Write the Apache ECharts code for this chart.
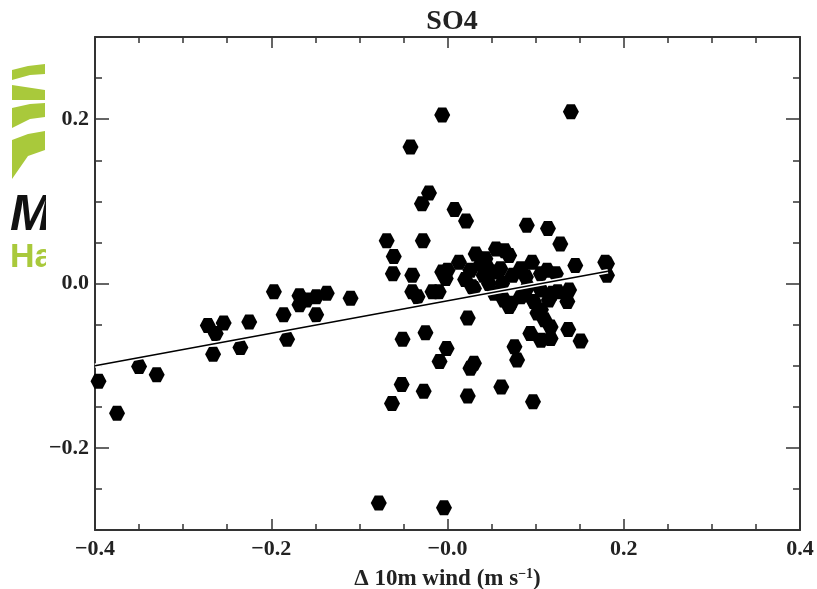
<!DOCTYPE html>
<html>
<head>
<meta charset="utf-8">
<script src="https://cdn.jsdelivr.net/npm/echarts@6/dist/echarts.min.js"></script>
<style>html,body{margin:0;padding:0;background:#fff}#c{width:817px;height:589px}</style>
</head>
<body>
<div id="c"></div>
<script>
const titleText = 'SO4';
const xAxisName = 'Δ 10m wind (m s';
const xTickValues = [-0.4, -0.2, 0.0, 0.2, 0.4];
const yTickValues = [-0.2, 0.0, 0.2];

const windDelta = [
  -0.396,-0.375,-0.350,-0.330,-0.272,-0.254,-0.263,-0.266,-0.225,-0.235,-0.197,-0.186,-0.182,-0.168,-0.168,-0.160,-0.149,-0.149,-0.137,-0.110,
  -0.006,-0.042,-0.021,-0.029,0.008,0.021,-0.069,-0.028,-0.061,-0.062,0.140,0.090,0.114,0.128,
  -0.040,-0.040,-0.034,-0.017,-0.010,-0.006,-0.002,
  0.023,-0.051,-0.025,-0.001,-0.009,0.030,0.026,-0.052,-0.027,-0.063,0.023,0.061,0.097,-0.078,-0.004,
  0.138,0.136,0.070,0.106,0.110,0.117,0.094,0.106,0.117,0.137,0.151,0.076,0.079,0.125,0.102,0.072,
  0.145,0.179,0.181,0.181,
  0.000,0.013,0.032,0.055,0.070,0.045,0.026,0.060,0.083,0.096,0.113,0.123,0.106,0.089,0.074,0.053,0.038,0.030,0.053,0.083,0.106,0.119,0.098,0.043,0.065,0.028,0.085,0.041,0.020,0.062,
  0.064,0.091,0.047,0.115
];
const so4Delta = [
  -0.119,-0.158,-0.101,-0.111,-0.051,-0.048,-0.061,-0.086,-0.047,-0.078,-0.010,-0.038,-0.068,-0.015,-0.026,-0.020,-0.016,-0.038,-0.012,-0.018,
  0.205,0.166,0.110,0.097,0.090,0.076,0.052,0.052,0.033,0.012,0.209,0.071,0.067,0.048,
  0.010,-0.010,-0.016,-0.010,-0.010,0.014,0.006,
  -0.042,-0.068,-0.060,-0.079,-0.095,-0.097,-0.103,-0.123,-0.131,-0.146,-0.137,-0.126,-0.144,-0.267,-0.273,
  -0.008,-0.022,-0.028,-0.032,-0.044,-0.053,-0.061,-0.069,-0.067,-0.056,-0.070,-0.077,-0.093,-0.010,-0.036,-0.024,
  0.022,0.026,0.010,0.024,
  0.016,0.026,0.036,0.042,0.034,0.020,0.016,0.018,0.018,0.026,0.016,0.012,0.012,0.008,0.010,0.014,0.024,-0.006,-0.012,-0.016,-0.008,-0.012,-0.022,0.030,0.040,-0.004,-0.014,0.010,0.005,0.000,
  -0.020,-0.004,0.000,-0.020
];
const fitX = [-0.4, 0.182];
const fitY = [-0.100, 0.015];

const chart = echarts.init(document.getElementById('c'), null, {renderer: 'canvas'});
const serif = '"Liberation Serif", "Times New Roman", serif';
const hex = 'path://M-1,0 L-0.5,-0.866 L0.5,-0.866 L1,0 L0.5,0.866 L-0.5,0.866 Z';
const fmt = v => {
  const a = Math.abs(v) < 1e-9 ? 0 : v;
  return (a < 0 ? '\u2212' : '') + Math.abs(a).toFixed(1);
};
const fmtX = v => (Math.abs(v) < 1e-9 ? '\u22120.0' : fmt(v));

const axisLineStyle = {color: '#333', width: 2};
const tickStyle = {color: '#333', width: 1.5};
const baseX = {
  type: 'value', min: -0.4, max: 0.4, interval: 0.2,
  splitLine: {show: false},
  axisLine: {show: true, onZero: false, lineStyle: axisLineStyle},
  axisTick: {show: true, inside: true, length: 11, lineStyle: tickStyle},
  minorTick: {show: true, splitNumber: 4, length: 6, lineStyle: tickStyle},
  minorSplitLine: {show: false}
};
const minorY = pos => ({
  type: 'value', min: -0.3, max: 0.3, interval: 0.05, position: pos,
  splitLine: {show: false},
  axisLine: {show: true, onZero: false, lineStyle: axisLineStyle},
  axisTick: {show: true, inside: true, length: 7, lineStyle: tickStyle},
  axisLabel: {show: false}
});
const majorY = (pos, labels) => ({
  type: 'value', min: -0.3, max: 0.3, interval: 0.05, position: pos,
  splitLine: {show: false},
  axisLine: {show: false, onZero: false},
  axisTick: {show: true, inside: true, length: 14, lineStyle: tickStyle, customValues: yTickValues},
  axisLabel: labels ? {show: true, customValues: yTickValues, formatter: fmt,
    fontFamily: serif, fontWeight: 'bold', fontSize: 22, color: '#222', margin: 6} : {show: false}
});

const points = windDelta.map((x, i) => [x, so4Delta[i]]);
const fitLine = fitX.map((x, i) => [x, fitY[i]]);

chart.setOption({
  animation: false,
  backgroundColor: '#fff',
  title: {
    text: titleText, left: 447, top: 3, textAlign: 'center',
    textStyle: {fontFamily: serif, fontWeight: 'bold', fontSize: 28, color: '#222'}
  },
  grid: {left: 95, right: 17, top: 37, bottom: 59, containLabel: false, outerBoundsMode: 'none'},
  xAxis: [
    Object.assign({}, baseX, {
      position: 'bottom',
      name: xAxisName + '{sup|\u22121})',
      nameLocation: 'middle', nameGap: 37,
      nameTextStyle: {fontFamily: serif, fontWeight: 'bold', fontSize: 23, color: '#222',
        rich: {sup: {fontFamily: serif, fontWeight: 'bold', fontSize: 14, color: '#222', verticalAlign: 'top', padding: [0,0,11,0]}}},
      axisLabel: {formatter: fmtX, fontFamily: serif, fontWeight: 'bold', fontSize: 22, color: '#222', margin: 8,
        customValues: xTickValues}
    }),
    Object.assign({}, baseX, {position: 'top', axisLabel: {show: false}})
  ],
  yAxis: [
    minorY('left'),
    minorY('right'),
    majorY('left', true),
    majorY('right', false)
  ],
  graphic: [
    {type: 'polygon', z: 1, shape: {points: [[12,70],[28,66],[45,64],[45,74],[30,75],[12,80]]}, style: {fill: '#a9c93b'}},
    {type: 'polygon', z: 1, shape: {points: [[12,85],[45,90],[45,100],[12,100]]}, style: {fill: '#a9c93b'}},
    {type: 'polygon', z: 1, shape: {points: [[12,108],[30,104],[45,103],[45,117],[30,119],[12,128]]}, style: {fill: '#a9c93b'}},
    {type: 'polygon', z: 1, shape: {points: [[12,140],[28,134],[45,131],[45,150],[28,156],[12,179]]}, style: {fill: '#a9c93b'}},
    {type: 'text', z: 1, left: 10, top: 191, style: {text: 'M', fontFamily: '"Liberation Sans", Arial, sans-serif', fontWeight: 'bold', fontStyle: 'italic', fontSize: 50, fill: '#111'}},
    {type: 'text', z: 1, left: 10, top: 241, style: {text: 'Ha', fontFamily: '"Liberation Sans", Arial, sans-serif', fontWeight: 'bold', fontSize: 34, fill: '#a9c93b'}},
    {type: 'rect', z: 2, shape: {x: 46, y: 55, width: 10, height: 230}, style: {fill: '#fff'}}
  ],
  series: [
    {
      type: 'scatter', xAxisIndex: 0, yAxisIndex: 0, data: points,
      symbol: hex, symbolSize: [16, 15],
      itemStyle: {color: '#000', opacity: 1}, silent: true, z: 2
    },
    {
      type: 'line', xAxisIndex: 0, yAxisIndex: 0, data: fitLine, showSymbol: false,
      lineStyle: {color: '#fff', width: 4.5}, silent: true, z: 3
    },
    {
      type: 'line', xAxisIndex: 0, yAxisIndex: 0, data: fitLine, showSymbol: false,
      lineStyle: {color: '#000', width: 1.6}, silent: true, z: 4
    }
  ]
});
</script>
</body>
</html>
